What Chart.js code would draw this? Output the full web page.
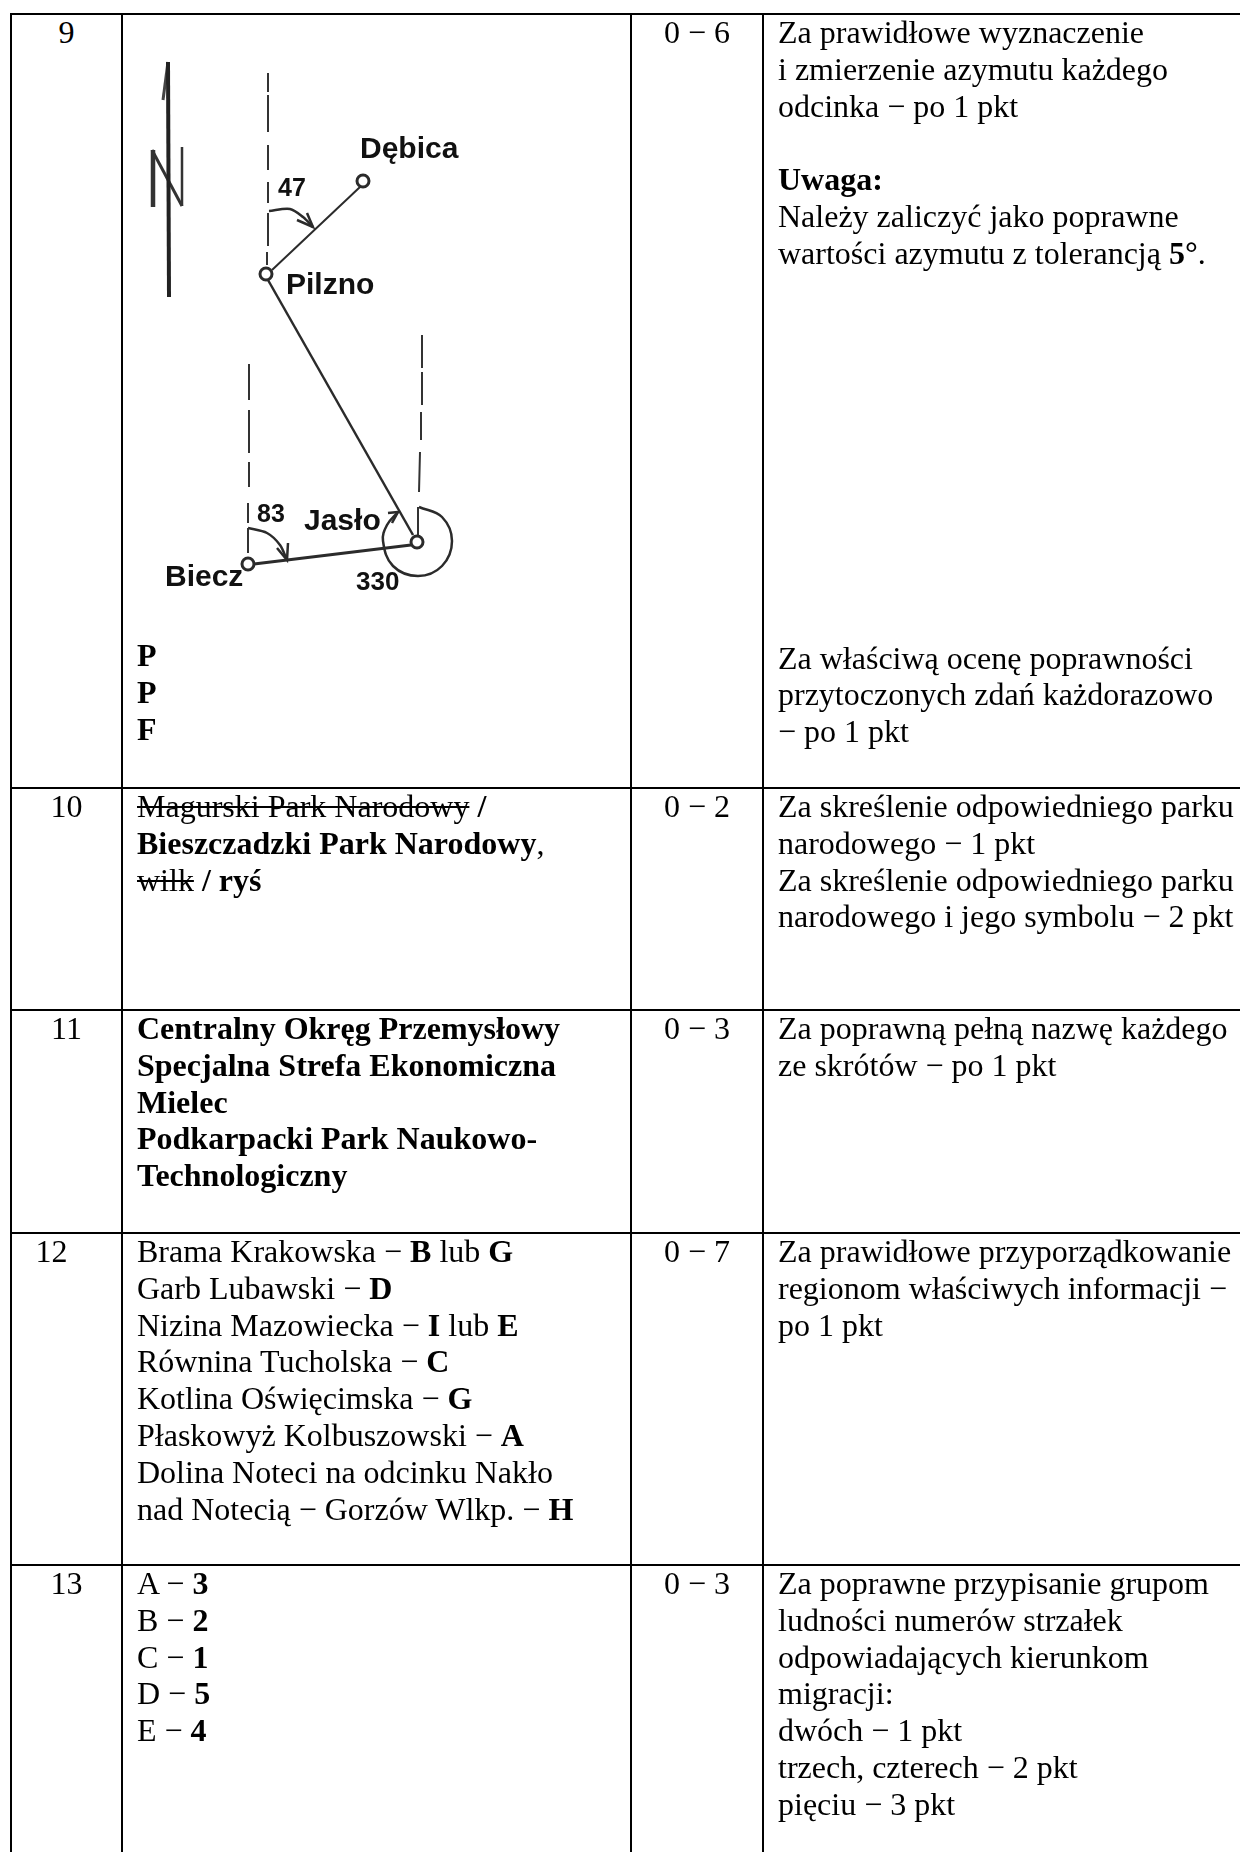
<!DOCTYPE html>
<html lang="pl">
<head>
<meta charset="utf-8">
<title>Klucz odpowiedzi</title>
<script src="https://cdn.jsdelivr.net/npm/chart.js@4"></script>
<style>
  html, body { margin: 0; padding: 0; background: #fff; }
  body { width: 1240px; height: 1852px; overflow: hidden; position: relative; }
  table {
    position: absolute; left: 10px; top: 13px; width: 1230px;
    table-layout: fixed; border-collapse: separate; border-spacing: 0;
    font: 32px/36.8px "Liberation Serif", "Times New Roman", serif; color: #000;
  }
  td {
    padding: 0; vertical-align: top; white-space: nowrap;
    border-left: 2px solid #000; border-top: 2px solid #000;
  }
  td > div { margin-top: -1px; }
  .num, .pts { text-align: center; }
  .ans, .rule { padding-left: 14px; }
  .num12 { padding-right: 30px; }
  s { text-decoration-thickness: 2px; }
  #mapCanvas { display: block; margin-top: 1px; }
</style>
</head>
<body>
<table>
  <colgroup><col style="width:111px"><col style="width:509px"><col style="width:132px"><col style="width:478px"></colgroup>
  <tr style="height:774px">
    <td class="num"><div>9</div></td>
    <td><canvas id="mapCanvas" width="507" height="622"></canvas>
      <div class="ans" style="padding-left:14px"><b>P<br>P<br>F</b></div></td>
    <td class="pts"><div>0 − 6</div></td>
    <td class="rule"><div>Za prawidłowe wyznaczenie<br>i zmierzenie azymutu każdego<br>odcinka − po 1 pkt<br><br><b>Uwaga:</b><br>Należy zaliczyć jako poprawne<br>wartości azymutu z tolerancją <b>5°</b>.</div>
      <div style="margin-top:368px">Za właściwą ocenę poprawności<br>przytoczonych zdań każdorazowo<br>− po 1 pkt</div></td>
  </tr>
  <tr style="height:222px">
    <td class="num"><div>10</div></td>
    <td class="ans"><div><s>Magurski Park Narodowy</s> <b>/</b><br><b>Bieszczadzki Park Narodowy</b>,<br><s>wilk</s> <b>/ ryś</b></div></td>
    <td class="pts"><div>0 − 2</div></td>
    <td class="rule"><div>Za skreślenie odpowiedniego parku<br>narodowego − 1 pkt<br>Za skreślenie odpowiedniego parku<br>narodowego i jego symbolu − 2 pkt</div></td>
  </tr>
  <tr style="height:223px">
    <td class="num"><div>11</div></td>
    <td class="ans"><div><b>Centralny Okręg Przemysłowy<br>Specjalna Strefa Ekonomiczna<br>Mielec<br>Podkarpacki Park Naukowo-<br>Technologiczny</b></div></td>
    <td class="pts"><div>0 − 3</div></td>
    <td class="rule"><div>Za poprawną pełną nazwę każdego<br>ze skrótów − po 1 pkt</div></td>
  </tr>
  <tr style="height:332px">
    <td class="num num12"><div>12</div></td>
    <td class="ans"><div>Brama Krakowska − <b>B</b> lub <b>G</b><br>Garb Lubawski − <b>D</b><br>Nizina Mazowiecka − <b>I</b> lub <b>E</b><br>Równina Tucholska − <b>C</b><br>Kotlina Oświęcimska − <b>G</b><br>Płaskowyż Kolbuszowski − <b>A</b><br>Dolina Noteci na odcinku Nakło<br>nad Notecią − Gorzów Wlkp. − <b>H</b></div></td>
    <td class="pts"><div>0 − 7</div></td>
    <td class="rule"><div>Za prawidłowe przyporządkowanie<br>regionom właściwych informacji −<br>po 1 pkt</div></td>
  </tr>
  <tr style="height:288px">
    <td class="num"><div>13</div></td>
    <td class="ans"><div>A − <b>3</b><br>B − <b>2</b><br>C − <b>1</b><br>D − <b>5</b><br>E − <b>4</b></div></td>
    <td class="pts"><div>0 − 3</div></td>
    <td class="rule"><div>Za poprawne przypisanie grupom<br>ludności numerów strzałek<br>odpowiadających kierunkom<br>migracji:<br>dwóch − 1 pkt<br>trzech, czterech − 2 pkt<br>pięciu − 3 pkt</div></td>
  </tr>
</table>

<script>
// Map values (axes are the scan's own x / y units)
const towns = [[363, 181], [266, 274], [417, 542], [248, 564]];
const routeDebica = [[360, 187], [272, 270]];
const routeJaslo = [[268, 280], [413, 535]];
const routeBiecz = [[254, 564], [411, 545]];

// North lines: one list of dashes per town, [x1, y1, x2, y2]
const northPilzno = [[268, 73, 268, 92], [268, 95, 268, 132], [268, 145, 268, 170], [268, 182, 268, 203], [268, 213, 268, 246], [267, 252, 267, 265]];
const northBiecz = [[249, 364, 249, 400], [249, 410, 249, 453], [249, 462, 249, 487], [248, 503, 248, 523], [248, 528, 248, 553]];
const northJaslo = [[422, 335, 422, 368], [422, 372, 422, 405], [421, 412, 421, 440], [420, 452, 419, 492], [418, 507, 418, 535]];

// Azimuth arcs and their arrow heads
const arc47 = [[269, 211], [290, 209], [303, 217], [313, 227]];
const head47 = [[307, 213], [313, 227], [297, 220]];
const arc83 = [[248, 528], [267, 533], [280, 545], [287, 560]];
const head83 = [[288, 543], [287, 560], [277, 548]];
const arc330 = [[419, 507], [442, 517], [452, 541], [442, 566], [418, 576], [393, 566], [383, 541], [387, 525], [398, 512]];
const head330 = [[388, 513], [398, 512], [392, 523]];

// North arrow with the N
const arrowShaft = [[168, 62], [169, 297]];
const arrowBarb = [[168, 62], [163, 100]];
const letterLeft = [[153, 150], [153, 207]];
const letterDiagonal = [[152, 150], [182, 206]];
const letterRight = [[182, 147], [182, 206]];

const labelTexts = ['Dębica', 'Pilzno', 'Jasło', 'Biecz', '47', '83', '330'];
const labelX = [360, 286, 304, 165, 278, 257, 356];
const labelY = [158, 294, 530, 586, 196, 522, 590];
const labelSize = [30, 30, 30, 30, 25, 25, 26];

const toPoints = list => list.map(([x, y]) => ({ x, y }));

function stroke(list, width, color = '#2b2b2b', tension = 0) {
  return {
    data: toPoints(list), showLine: true, pointRadius: 0,
    borderColor: color, borderWidth: width, tension, fill: false
  };
}

// Dashes go into one dataset, a NaN point breaks the line
function dashes(list) {
  const pts = list.flatMap(([x1, y1, x2, y2]) => [[x1, y1], [x2, y2], [NaN, NaN]]);
  return stroke(pts, 2, '#333');
}

const mapLabels = {
  id: 'mapLabels',
  afterDatasetsDraw(chart) {
    const { ctx, scales } = chart;
    ctx.save();
    ctx.fillStyle = '#111';
    ctx.textBaseline = 'alphabetic';
    labelTexts.forEach((text, i) => {
      ctx.font = `bold ${labelSize[i]}px "Liberation Sans", Arial, sans-serif`;
      ctx.fillText(text, scales.x.getPixelForValue(labelX[i]), scales.y.getPixelForValue(labelY[i]));
    });
    ctx.restore();
  }
};

new Chart(document.getElementById('mapCanvas'), {
  type: 'scatter',
  data: {
    datasets: [
      {
        data: toPoints(towns), pointRadius: 6, pointBorderWidth: 3,
        pointBackgroundColor: '#fff', pointBorderColor: '#2b2b2b'
      },
      stroke(routeDebica, 2),
      stroke(routeJaslo, 2.5),
      stroke(routeBiecz, 3),
      dashes(northPilzno),
      dashes(northBiecz),
      dashes(northJaslo),
      stroke(arc47, 2.5, '#2b2b2b', 0.3),
      stroke(head47, 2.5),
      stroke(arc83, 2.5, '#2b2b2b', 0.3),
      stroke(head83, 2.5),
      stroke(arc330, 2.5, '#2b2b2b', 0.4),
      stroke(head330, 2.5),
      stroke(arrowShaft, 4, '#222'),
      stroke(arrowBarb, 3, '#444'),
      stroke(letterLeft, 4.5, '#333'),
      stroke(letterDiagonal, 3, '#333'),
      stroke(letterRight, 2.5, '#333')
    ]
  },
  options: {
    responsive: false,
    animation: false,
    layout: { padding: 0, autoPadding: false },
    plugins: { legend: { display: false }, tooltip: { enabled: false } },
    scales: {
      x: { type: 'linear', display: false, min: 123, max: 630 },
      y: { type: 'linear', display: false, min: 16, max: 638, reverse: true }
    }
  },
  plugins: [mapLabels]
});
</script>
</body>
</html>
